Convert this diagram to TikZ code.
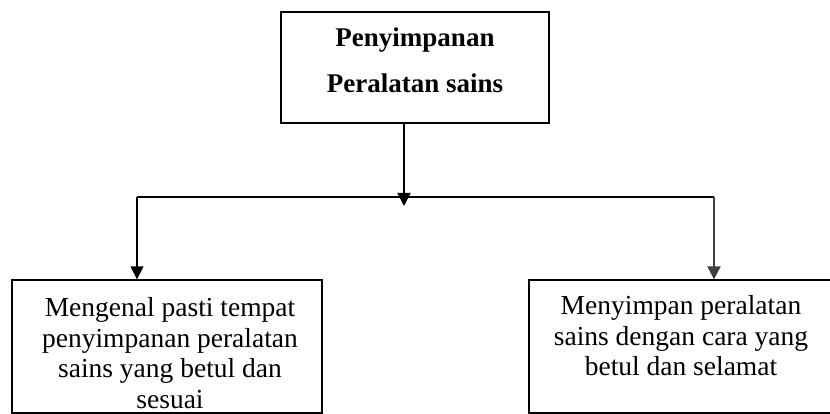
\documentclass[tikz,border=0pt]{standalone}
\usepackage{fontspec}
\setmainfont{Liberation Serif}
\usetikzlibrary{arrows.meta}
\begin{document}
\begin{tikzpicture}[x=1pt,y=-1pt,
  box/.style={draw, line width=1.3pt, inner sep=0pt},
  conn/.style={line width=1.3pt},
  arr/.style={line width=1.3pt, -{Triangle[length=13pt,width=13pt]}},
  toptext/.style={font=\bfseries\fontsize{27}{46}\selectfont, align=center, inner sep=0pt},
  bottext/.style={font=\fontsize{27.5}{30.5}\selectfont, align=center, inner sep=0pt}]
\useasboundingbox (0,0) rectangle (830,414);
% boxes
\node[box, minimum width=268pt, minimum height=111pt] (top) at (415,67.5) {};
\node[box, minimum width=310pt, minimum height=133pt] (left) at (167,346.5) {};
\node[box, minimum width=304pt, minimum height=133pt] (right) at (681,346.5) {};
% texts
\node[toptext] (toplabel) at (415,60) {Penyimpanan\\Peralatan sains};
\node[bottext] (leftlabel) at (170,353) {Mengenal pasti tempat\\penyimpanan peralatan\\sains yang betul dan\\sesuai};
\node[bottext] (rightlabel) at (681,336) {Menyimpan peralatan\\sains dengan cara yang\\betul dan selamat};
% connectors
\coordinate (jc) at (404,197);
\coordinate (jl) at (137,197);
\coordinate (jr) at (714,197);
\coordinate (tip) at (404,206);
\draw[conn] (jl) -- (jr);
\draw[arr] (top.south -| jc) -- (tip);
\draw[arr] (jl) -- (jl |- left.north);
\draw[arr, line width=2pt, draw=black!75] (jr) -- (jr |- right.north);
\end{tikzpicture}
\end{document}
